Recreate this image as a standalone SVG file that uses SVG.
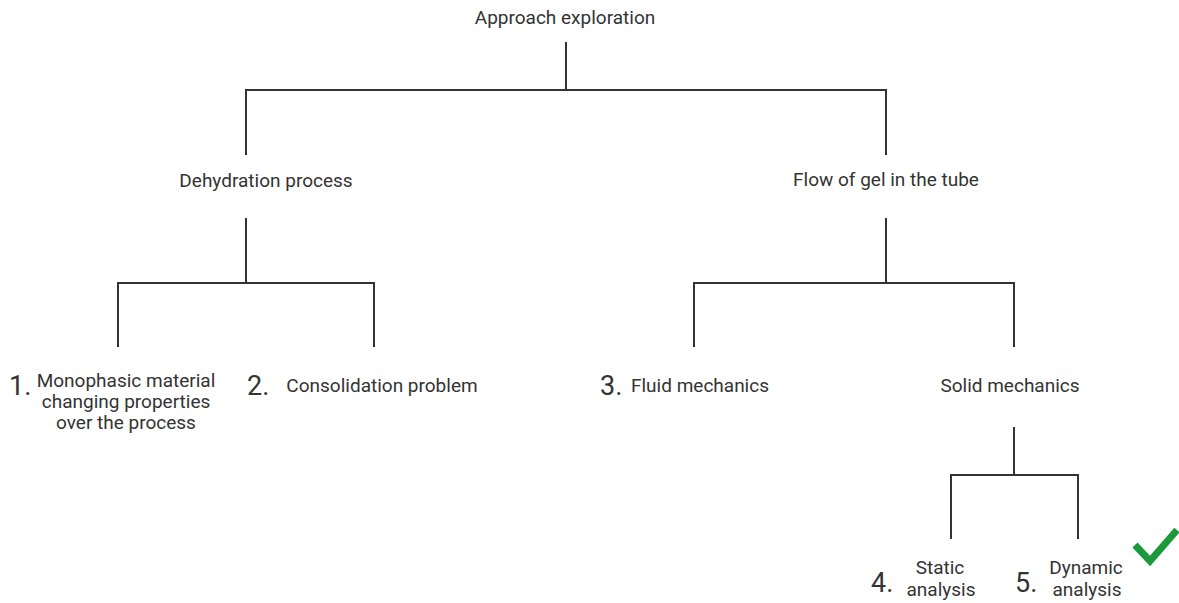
<svg xmlns="http://www.w3.org/2000/svg" width="1179" height="603" viewBox="0 0 1179 603">
<style>
text{font-family:Roboto,"Liberation Sans",sans-serif;fill:#333;}
.t{font-size:19px;text-anchor:middle;}
.n{font-size:27px;}
.c{fill:none;stroke:#333;stroke-width:2;}
</style>
<rect width="1179" height="603" fill="#fff"/>
<g id="connectors" class="c">
<path d="M566,42V90M246,155V90H886V155"/>
<path d="M246,218V283M118,347V283H374V347"/>
<path d="M886,218V283M694,347V283H1014V347"/>
<path d="M1014,427V475M951,539V475H1078V539"/>
</g>
<g id="root"><text class="t" x="565" y="24">Approach exploration</text></g>
<g id="dehydration"><text class="t" x="266" y="187">Dehydration process</text></g>
<g id="flow"><text class="t" x="886" y="186">Flow of gel in the tube</text></g>
<g id="n1"><text class="n" x="9" y="395">1.</text>
<text class="t" x="126" y="387">Monophasic material</text>
<text class="t" x="126" y="408">changing properties</text>
<text class="t" x="126" y="429">over the process</text></g>
<g id="n2"><text class="n" x="247" y="395">2.</text><text class="t" x="382" y="392">Consolidation problem</text></g>
<g id="n3"><text class="n" x="600" y="395">3.</text><text class="t" x="700" y="392">Fluid mechanics</text></g>
<g id="solid"><text class="t" x="1010" y="392">Solid mechanics</text></g>
<g id="n4"><text class="n" x="871" y="592">4.</text>
<text class="t" x="940" y="574">Static</text><text class="t" x="941" y="596">analysis</text></g>
<g id="n5"><text class="n" x="1015" y="592">5.</text>
<text class="t" x="1086" y="574">Dynamic</text><text class="t" x="1087" y="596">analysis</text></g>
<g id="check"><path d="M1135,545L1150,561L1177,530" fill="none" stroke="#1a9a3a" stroke-width="7"/></g>
</svg>
